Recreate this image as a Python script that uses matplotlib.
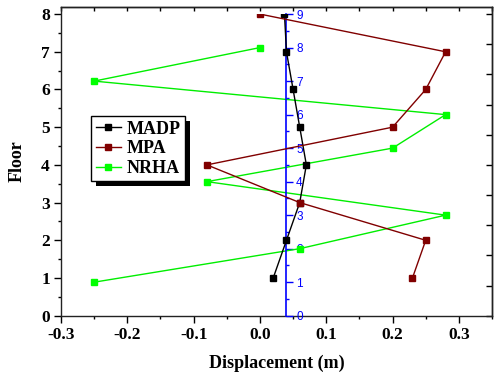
import matplotlib
matplotlib.use('Agg')
import matplotlib.pyplot as plt
from matplotlib.patches import Rectangle
from matplotlib.ticker import MultipleLocator, FixedLocator, NullFormatter

floors = [1, 2, 3, 4, 5, 6, 7, 8]
madp = [0.02, 0.04, 0.06, 0.07, 0.06, 0.05, 0.04, 0.037]
mpa = [0.23, 0.25, 0.06, -0.08, 0.20, 0.25, 0.28, 0.0]
nrha_levels = [1, 2, 3, 4, 5, 6, 7, 8]
nrha = [-0.25, 0.06, 0.28, -0.08, 0.20, 0.28, -0.25, 0.0]
x_ticks = [-0.3, -0.2, -0.1, 0.0, 0.1, 0.2, 0.3]
y_ticks = [0, 1, 2, 3, 4, 5, 6, 7, 8]
blue_ticks = [0, 1, 2, 3, 4, 5, 6, 7, 8, 9]

serif = ['Liberation Serif', 'DejaVu Serif']
sans = ['Liberation Sans', 'DejaVu Sans']

fig = plt.figure(figsize=(4.94, 3.76), dpi=100)
ax = fig.add_axes([0.1235, 0.1604, 0.8725, 0.8202])
ax.set_xlim(-0.3, 0.35)
ax.set_ylim(0, 8.18)
for s in ax.spines.values():
    s.set_linewidth(1.0)
    s.set_color('#222222')

ax.set_xticks(x_ticks)
ax.set_xticklabels([f'{v:.1f}' for v in x_ticks])
ax.xaxis.set_minor_locator(MultipleLocator(0.05))
ax.set_yticks(y_ticks)
ax.set_yticklabels([str(v) for v in y_ticks])
ax.yaxis.set_minor_locator(MultipleLocator(0.5))
ax.tick_params(which='major', direction='out', length=5, width=1, pad=3)
ax.tick_params(which='minor', direction='out', length=2.5, width=1)
for lab in ax.get_xticklabels() + ax.get_yticklabels():
    lab.set_fontfamily(serif)
    lab.set_fontweight('bold')
    lab.set_fontsize(12.5)

# top ticks (inward)
top = ax.secondary_xaxis('top')
top.set_xticks([-0.3 + 0.05 * i for i in range(14)])
top.xaxis.set_major_formatter(NullFormatter())
top.tick_params(direction='in', length=3, width=1)
top.spines['top'].set_linewidth(1.0)
# right ticks (inward)
right = ax.secondary_yaxis('right')
right.set_yticks([0.8 * i for i in range(11)])
right.yaxis.set_major_formatter(NullFormatter())
right.tick_params(direction='in', length=4, width=1)
right.spines['right'].set_linewidth(1.0)

ax.set_xlabel('Displacement (m)', fontfamily=serif, fontweight='bold', fontsize=13)
ax.set_ylabel('Floor', fontfamily=serif, fontweight='bold', fontsize=13)
ax.xaxis.set_label_coords(0.5, -0.125)
ax.yaxis.set_label_coords(-0.082, 0.5)

# blue secondary scale axis
bax = ax.inset_axes([0, 0, 1, 8 / 8.18])
bax.set_xlim(-0.3, 0.35)
bax.set_ylim(0, 9)
bax.patch.set_visible(False)
for k in ['top', 'bottom', 'left']:
    bax.spines[k].set_visible(False)
bax.spines['right'].set_position(('data', 0.04))
bax.spines['right'].set_color('blue')
bax.spines['right'].set_linewidth(1.2)
bax.set_xticks([])
bax.yaxis.tick_right()
bax.set_yticks(blue_ticks)
bax.yaxis.set_minor_locator(MultipleLocator(0.5))
bax.tick_params(axis='y', which='major', direction='out', length=5, width=1,
                color='blue', labelcolor='blue', labelsize=8.5, pad=2)
bax.tick_params(axis='y', which='minor', direction='out', length=2.5, width=1, color='blue')
for lab in bax.get_yticklabels():
    lab.set_fontfamily(sans)

l_nrha, = bax.plot(nrha, nrha_levels, color='#00ee00', lw=1.0, marker='s',
                   markersize=4.5, markerfacecolor='#00ff00', markeredgecolor='#00ff00', label='NRHA')

# axes for MADP/MPA clipped at floor 8
rax = ax.inset_axes([0, 0, 1, 8 / 8.18])
rax.set_xlim(-0.3, 0.35)
rax.set_ylim(0, 8)
rax.axis('off')
l_madp, = rax.plot(madp, floors, color='black', lw=1.0, marker='s',
                   markersize=4.5, label='MADP')
l_mpa, = rax.plot(mpa, floors, color='#800000', lw=1.0, marker='s',
                  markersize=4.5, label='MPA')

leg = ax.legend(handles=[l_madp, l_mpa, l_nrha], loc='upper left',
                bbox_to_anchor=(0.0696, 0.6475), borderaxespad=0,
                prop={'family': serif, 'weight': 'bold', 'size': 13},
                frameon=True, fancybox=False, edgecolor='black', framealpha=1,
                handlelength=1.4, handletextpad=0.3, labelspacing=0.15,
                borderpad=0.25)
leg.get_frame().set_linewidth(1.0)
leg.set_zorder(10)

fig.canvas.draw()
renderer = fig.canvas.get_renderer()
bb = leg.get_frame().get_window_extent(renderer)
inv = ax.transAxes.inverted()
(x0, y0), (x1, y1) = inv.transform([(bb.x0 + 5, bb.y0 - 5), (bb.x1 + 5, bb.y1 - 5)])
shadow = Rectangle((x0, y0), x1 - x0, y1 - y0, transform=ax.transAxes,
                   facecolor='black', edgecolor='none', zorder=9, clip_on=False)
ax.add_patch(shadow)

fig.savefig('out.png', dpi=100)
